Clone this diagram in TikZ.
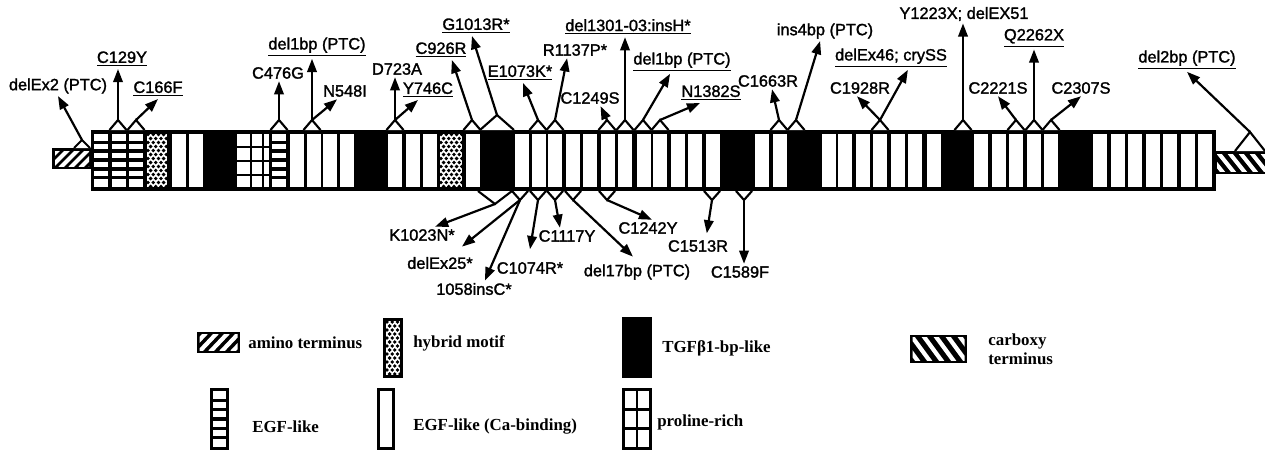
\documentclass[tikz,border=0pt]{standalone}
\usepackage{fontspec}
\setmainfont{Liberation Serif}
\setsansfont{Liberation Sans}
\newfontfamily\labfont{Liberation Sans}[FakeBold=1.6]
\usetikzlibrary{arrows.meta}

% one unit = one pixel of the 1265 x 451 frame, y pointing down
\tikzset{
  lab/.style={font=\labfont\fontsize{9.3}{10}\selectfont,inner sep=1.2pt},
  leg/.style={font=\rmfamily\bfseries\fontsize{9.6}{10.6}\selectfont,anchor=west,inner sep=0pt,align=left},
  tent/.style={draw=black,fill=white,line width=1.2pt},
  mut/.style={line width=1.25pt,-{Triangle[length=7.5pt,width=5.4pt]}},
  mod/.style={fill=white},
}

% open tent on top of a domain: name, x, base y, half width, height
\newcommand{\tentup}[5]{%
  \filldraw[tent] (#2-#4,#3) -- (#2,#3-#5) -- (#2+#4,#3);
  \coordinate (#1) at (#2,#3-#5);}
% same, hanging below the bar
\newcommand{\tentdn}[5]{%
  \filldraw[tent] (#2-#4,#3) -- (#2,#3+#5) -- (#2+#4,#3);
  \coordinate (#1) at (#2,#3+#5);}
% dotted hybrid motif: x0, y0, x1, y1
\newcommand{\hybrid}[4]{%
  \begin{scope}
    \clip (#1,#2) rectangle (#3,#4);
    \fill[white] (#1,#2) rectangle (#3,#4);
    \foreach \row in {0,...,16}{
      \foreach \col in {0,...,5}{
        \pgfmathsetmacro\dx{mod(\row,2)*2.6}
        \fill (#1+1+\col*5.2+\dx,#2+1+\row*4) circle (1.9);
      }
    }
  \end{scope}}
% EGF-like: white box cut by black bars: x0, y0, x1, y1
\newcommand{\egfbox}[4]{%
  \fill[white] (#1,#2) rectangle (#3,#4);
  \foreach \k in {1,...,5}
    \draw[line width=1.9pt] (#1,{#2+\k*(#4-#2)/6}) -- (#3,{#2+\k*(#4-#2)/6});}

\begin{document}
\begin{tikzpicture}[x=0.2mm,y=-0.2mm]
  \useasboundingbox (0,0) rectangle (1265,451);

  % ---------------- protein bar ----------------
  \fill (52,148) rectangle (92,169);
  \begin{scope}
    \clip (55,151) rectangle (89,166);
    \foreach \s in {0,...,5} \draw[white,line width=2.3pt] (40+\s*10,168) -- (40+\s*10+19,149);
  \end{scope}
  \fill (1214,151) rectangle (1270,174);
  \begin{scope}
    \clip (1217,154) rectangle (1270,171);
    \foreach \s in {0,...,6} \draw[white,line width=2.3pt] (1205+\s*11,150) -- (1205+\s*11+20,175);
  \end{scope}
  \fill (91,130) rectangle (1216,191);

  % calcium binding EGF modules
  \foreach \x in {172,189,290,307,323,340,388,406,423,466,515,532,548,566,583,601,618,637,653,671,688,706,
                  755,773,822,838,856,873,891,908,927,974,992,1009,1027,1044,1093,1111,1128,1146,1163,1181,1198}
    \fill[mod] (\x,133.5) rectangle (\x+13.5,186.5);
  % EGF-like modules
  \foreach \x in {94,112,129,272} \egfbox{\x}{133.5}{\x+14}{186.5};
  % hybrid motifs
  \hybrid{147}{133.5}{167}{186.5}
  \hybrid{440}{133.5}{462}{186.5}
  % proline rich
  \fill[white] (237,133.5) rectangle (269,186.5);
  \draw[line width=1.7pt] (251,133) -- (251,187) (263,133) -- (263,187);
  \draw[line width=1.7pt] (237,147) -- (269,147) (237,161) -- (269,161) (237,175) -- (269,175);

  % ---------------- mutations above ----------------
  \tentup{aDelEx2}{82}{148}{8}{8}
  \tentup{tC129Y}{118}{130}{8.5}{10}
  \tentup{tC166F}{136}{130}{8.5}{10}
  \tentup{tC476G}{279}{130}{8.5}{10}
  \tentup{tN548}{312}{130}{8.5}{10}
  \tentup{tD723}{395}{130}{8.5}{10}
  \tentup{tC926R}{472}{130}{8.5}{10}
  \tentup{tG1013R}{497}{130}{17}{15}
  \tentup{tE1073K}{538}{130}{8.5}{10}
  \tentup{tR1137P}{555}{130}{8.5}{10}
  \tentup{tC1249S}{607}{130}{8.5}{10}
  \tentup{tDel1301}{625}{130}{8.5}{10}
  \tentup{tDel1bpB}{643}{130}{8.5}{10}
  \tentup{tN1382S}{660}{130}{8.5}{10}
  \tentup{tC1663R}{779}{130}{8.5}{10}
  \tentup{tIns4bp}{796}{130}{8.5}{10}
  \tentup{tC1928}{880}{130}{8.5}{10}
  \tentup{tY1223X}{963}{130}{8.5}{10}
  \tentup{tC2221S}{1016}{130}{8.5}{10}
  \tentup{tQ2262X}{1034}{130}{8.5}{10}
  \tentup{tC2307S}{1051}{130}{8.5}{10}
  \tentup{aDel2bp}{1250}{151}{15}{19}

  \node[lab] (lDelEx2) at (58,86) {delEx2 (PTC)};
  \node[lab] (lC129Y) at (122,59) {\underline{C129Y}};
  \node[lab] (lC166F) at (158,89) {\underline{C166F}};
  \node[lab] (lC476G) at (278,73) {C476G};
  \node[lab] (lDel1bpA) at (317,47) {\underline{del1bp (PTC)}};
  \node[lab] (lN548I) at (345,91) {N548I};
  \node[lab] (lD723A) at (397,69) {D723A};
  \node[lab] (lY746C) at (428,90) {\underline{Y746C}};
  \node[lab] (lC926R) at (441,50) {\underline{C926R}};
  \node[lab] (lG1013R) at (476,26) {\underline{G1013R*}};
  \node[lab] (lE1073K) at (520,73) {\underline{E1073K*}};
  \node[lab] (lR1137P) at (575,50) {R1137P*};
  \node[lab] (lC1249S) at (590,98) {C1249S};
  \node[lab] (lDel1301) at (628,27) {\underline{del1301-03:insH*}};
  \node[lab] (lDel1bpB) at (682,62) {\underline{del1bp (PTC)}};
  \node[lab] (lN1382S) at (711,93) {\underline{N1382S}};
  \node[lab] (lC1663R) at (768,81) {C1663R};
  \node[lab] (lIns4bp) at (825,31) {ins4bp (PTC)};
  \node[lab] (lC1928R) at (860,88) {C1928R};
  \node[lab] (lDelEx46) at (891,58) {\underline{delEx46; crySS}};
  \node[lab] (lY1223X) at (964,14) {Y1223X; delEX51};
  \node[lab] (lQ2262X) at (1034,38) {\underline{Q2262X}};
  \node[lab] (lC2221S) at (998,88) {C2221S};
  \node[lab] (lC2307S) at (1081,88) {C2307S};
  \node[lab] (lDel2bp) at (1187,60) {\underline{del2bp (PTC)}};

  \draw[mut] (aDelEx2) -- (lDelEx2.south);
  \draw[mut] (tC129Y) -- (tC129Y |- lC129Y.south);
  \draw[mut] (tC166F) -- (lC166F.south);
  \draw[mut] (tC476G) -- (tC476G |- lC476G.south);
  \draw[mut] (tN548) -- (tN548 |- lDel1bpA.south);
  \draw[mut] (tN548) -- ([xshift=-4.5pt]lN548I.south);
  \draw[mut] (tD723) -- (tD723 |- lD723A.south);
  \draw[mut] (tD723) -- ([xshift=-5.7pt]lY746C.south);
  \draw[mut] (tC926R) -- ([xshift=6.2pt]lC926R.south);
  \draw[mut] (tG1013R) -- ([xshift=-2.3pt]lG1013R.south);
  \draw[mut] (tE1073K) -- ([xshift=1.7pt]lE1073K.south);
  \draw[mut] (tR1137P) -- ([xshift=-4.5pt]lR1137P.south);
  \draw[mut] (tC1249S) -- ([xshift=6pt]lC1249S.south);
  \draw[mut] (tDel1301) -- (tDel1301 |- lDel1301.south);
  \draw[mut] (tDel1bpB) -- ([xshift=-6.8pt]lDel1bpB.south);
  \draw[mut] (tN1382S) -- ([xshift=-6.2pt]lN1382S.south);
  \draw[mut] (tC1663R) -- ([xshift=2.3pt]lC1663R.south);
  \draw[mut] (tIns4bp) -- ([xshift=-2.8pt]lIns4bp.south);
  \draw[mut] (tC1928) -- ([xshift=-1.7pt]lC1928R.south);
  \draw[mut] (tC1928) -- ([xshift=9.6pt]lDelEx46.south);
  \draw[mut] (tY1223X) -- (tY1223X |- lY1223X.south);
  \draw[mut] (tQ2262X) -- (tQ2262X |- lQ2262X.south);
  \draw[mut] (tC2221S) -- (lC2221S.south);
  \draw[mut] (tC2307S) -- (lC2307S.south);
  \draw[mut] (aDel2bp) -- (lDel2bp.south);

  % ---------------- mutations below ----------------
  \tentdn{bK1023N}{495}{191}{17}{13}
  \tentdn{bEx25}{520}{191}{8}{9}
  \tentdn{bC1074R}{538}{191}{8}{9}
  \tentdn{bC1117Y}{555}{191}{8}{9}
  \tentdn{bDel17}{573}{191}{8}{9}
  \tentdn{bC1242Y}{607}{191}{8}{9}
  \tentdn{bC1513R}{712}{191}{8}{9}
  \tentdn{bC1589F}{744}{191}{8}{9}

  \node[lab] (lK1023N) at (422,235) {K1023N*};
  \node[lab] (lDelEx25) at (440,263) {delEx25*};
  \node[lab] (l1058insC) at (474,289) {1058insC*};
  \node[lab] (lC1074R) at (530,268) {C1074R*};
  \node[lab] (lC1117Y) at (567,236) {C1117Y};
  \node[lab] (lDel17bp) at (637,272) {del17bp (PTC)};
  \node[lab] (lC1242Y) at (648,228) {C1242Y};
  \node[lab] (lC1513R) at (698,246) {C1513R};
  \node[lab] (lC1589F) at (740,272) {C1589F};

  \draw[mut] (bK1023N) -- ([xshift=7.4pt]lK1023N.north);
  \draw[mut] (bEx25) -- ([xshift=12.5pt,yshift=4.5pt]lDelEx25.north);
  \draw[mut] (bEx25) -- ([xshift=6.2pt]l1058insC.north);
  \draw[mut] (bC1074R) -- ([yshift=6pt]lC1074R.north);
  \draw[mut] (bC1117Y) -- ([xshift=-4pt]lC1117Y.north);
  \draw[mut] (bDel17) -- ([xshift=-2.3pt,yshift=3pt]lDel17bp.north);
  \draw[mut] (bC1242Y) -- ([xshift=2.3pt]lC1242Y.north);
  \draw[mut] (bC1513R) -- ([xshift=5pt,yshift=2.5pt]lC1513R.north);
  \draw[mut] (bC1589F) -- (bC1589F |- lC1589F.north);

  % ---------------- legend ----------------
  \fill (197,332) rectangle (240,353);
  \begin{scope}
    \clip (199.5,334.5) rectangle (237.5,350.5);
    \foreach \s in {0,...,4} \draw[white,line width=2.4pt] (188+\s*11,352) -- (188+\s*11+18,333);
  \end{scope}
  \node[leg] (gAmino) at (248,343) {amino terminus};

  \fill (383,318) rectangle (403,378);
  \hybrid{386}{321}{400}{375}
  \node[leg] (gHybrid) at (413,343) {hybrid motif};

  \fill (622,317) rectangle (652,378);
  \node[leg] (gTgf) at (662,348) {TGFβ1-bp-like};

  \fill (910,335) rectangle (967,363);
  \begin{scope}
    \clip (912.5,337.5) rectangle (964.5,360.5);
    \foreach \s in {0,...,5} \draw[white,line width=2.4pt] (898+\s*12,334) -- (898+\s*12+22,364);
  \end{scope}
  \node[leg] (gCarboxy) at (988,349) {carboxy\\terminus};

  \fill (210,388) rectangle (229,450);
  \egfbox{213}{391}{226}{447}
  \node[leg] (gEgf) at (252,427) {EGF-like};

  \filldraw[fill=white,line width=1.7pt] (378.5,389.5) rectangle (393.5,448.5);
  \node[leg] (gCbEgf) at (413,427) {EGF-like (Ca-binding)};

  \fill (622,388) rectangle (652,450);
  \fill[white] (625,391) rectangle (649,447);
  \draw[line width=1.6pt] (637,391) -- (637,447) (625,409.7) -- (649,409.7) (625,428.3) -- (649,428.3);
  \node[leg] (gProline) at (657,422) {proline-rich};
\end{tikzpicture}
\end{document}
